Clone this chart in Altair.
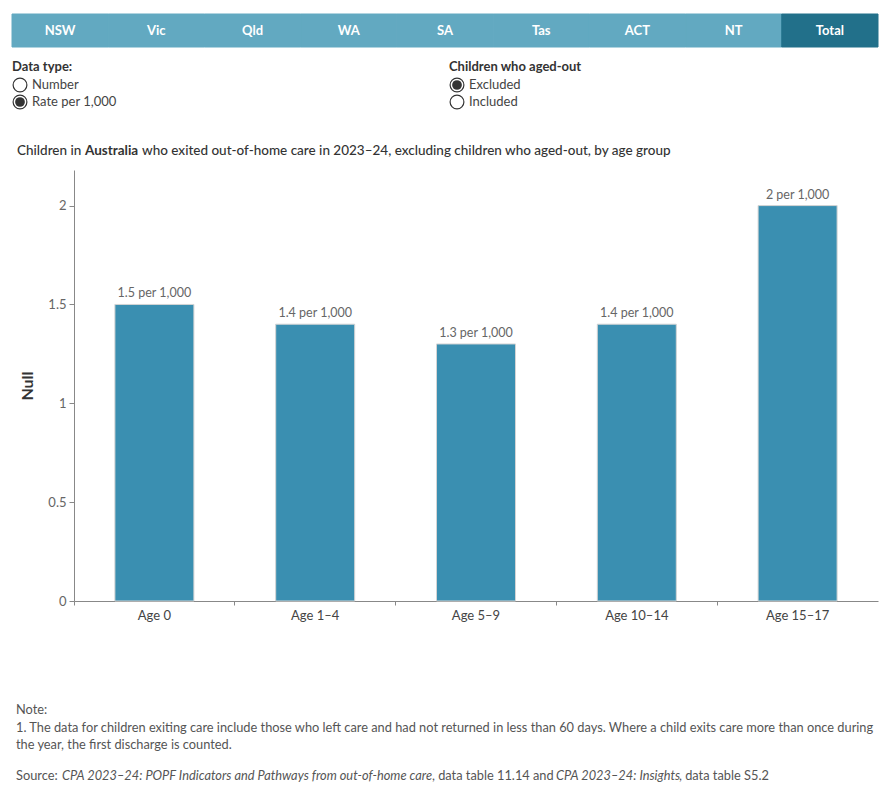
import altair as alt
import pandas as pd

# ---- data ----
ages = ["Age 0", "Age 1\u20134", "Age 5\u20139", "Age 10\u201314", "Age 15\u201317"]
rates = [1.5, 1.4, 1.3, 1.4, 2.0]
rate_labels = ["1.5 per 1,000", "1.4 per 1,000", "1.3 per 1,000", "1.4 per 1,000", "2 per 1,000"]
states = ["NSW", "Vic", "Qld", "WA", "SA", "Tas", "ACT", "NT", "Total"]
selected_state = "Total"
y_ticks = [0, 0.5, 1, 1.5, 2]

FONT = "Lato"
BAR = "#3a8fb1"
TAB = "#62a9c1"
TAB_SEL = "#22708a"

df = pd.DataFrame({"age": ages, "rate": rates, "label": rate_labels})
tabs = pd.DataFrame({"state": states, "sel": [s == selected_state for s in states]})

xband = alt.Scale(paddingInner=0, paddingOuter=0)
yscale = alt.Scale(domain=[0, 2.18], nice=False, zero=True)

bars = alt.Chart(df).mark_bar(size=79, color=BAR, stroke="#d4d4d4", strokeWidth=1).encode(
    x=alt.X("age:N", sort=ages, scale=xband, title=None,
            axis=alt.Axis(labelAngle=0, labelFont=FONT, labelFontSize=13, labelColor="#444",
                          labelPadding=4, domainColor="#888", tickColor="#888", tickSize=4,
                          bandPosition=0, grid=False)),
    y=alt.Y("rate:Q", scale=yscale, title="Null",
            axis=alt.Axis(values=y_ticks, format="~g", labelFont=FONT, labelFontSize=13, labelColor="#666",
                          titleFont=FONT, titleFontSize=16, titleFontWeight="bold", titleColor="#333",
                          titlePadding=12, domainColor="#888", tickColor="#888", tickSize=5,
                          labelPadding=3, grid=False)),
)

labels = alt.Chart(df).mark_text(font=FONT, fontSize=12.5, color="#666", baseline="bottom", dy=-4).encode(
    x=alt.X("age:N", sort=ages, scale=xband, axis=None),
    y=alt.Y("rate:Q", scale=yscale, title="Null"),
    text="label:N",
)

tab_scale = alt.Scale(range=[-62, 804], paddingInner=0, paddingOuter=0)
tab_color = alt.condition("datum.sel", alt.value(TAB_SEL), alt.value(TAB))
tab_rects = alt.Chart(tabs).mark_rect(strokeWidth=1).encode(
    x=alt.X("state:N", sort=states, scale=tab_scale, axis=None),
    y=alt.value(-156), y2=alt.value(-123),
    color=tab_color,
    stroke=tab_color,
)
tab_text = alt.Chart(tabs).mark_text(font=FONT, fontSize=13, fontWeight="bold", color="white",
                                     baseline="middle").encode(
    x=alt.X("state:N", sort=states, scale=tab_scale, axis=None),
    y=alt.value(-139),
    text="state:N",
)


def txt(s, x, y, size=12, color="#333", weight="normal", style="normal", align="left", baseline="middle"):
    return alt.Chart(pd.DataFrame({"t": [s]})).mark_text(
        font=FONT, fontSize=size, color=color, fontWeight=weight, fontStyle=style,
        align=align, baseline=baseline).encode(x=alt.value(x), y=alt.value(y), text="t:N")


def radio(x, y, on):
    d = pd.DataFrame({"t": [0]})
    outer = alt.Chart(d).mark_point(shape="circle", size=190, filled=True, fill="white",
                                    stroke="#333", strokeWidth=1.2, opacity=1).encode(
        x=alt.value(x), y=alt.value(y))
    if not on:
        return [outer]
    inner = alt.Chart(d).mark_point(shape="circle", size=95, filled=True, color="#333",
                                    opacity=1).encode(x=alt.value(x), y=alt.value(y))
    return [outer, inner]


controls = [
    txt("Data type:", -62, -103, size=13, weight="bold", color="#333"),
    *radio(-54, -85, False), txt("Number", -42, -85, size=13, color="#444"),
    *radio(-54, -68, True), txt("Rate per 1,000", -42, -68, size=13, color="#444"),
    txt("Children who aged-out", 375, -103, size=13, weight="bold", color="#333"),
    *radio(383, -85, True), txt("Excluded", 395, -85, size=13, color="#444"),
    *radio(383, -68, False), txt("Included", 395, -68, size=13, color="#444"),
]

title = [
    txt("Children in", -57, -19, size=13.5, weight=500, color="#333"),
    txt("Australia", 11, -19, size=13.5, weight="bold", color="#333"),
    txt("who exited out-of-home care in 2023\u201324, excluding children who aged-out, by age group",
        68, -19, size=13.5, weight=500, color="#333"),
]

NS = 12.8
notes = [
    txt("Note:", -58, 540, size=NS, color="#555"),
    txt("1. The data for children exiting care include those who left care and had not returned in less than 60 days. "
        "Where a child exits care more than once during", -58, 558, size=NS, color="#555"),
    txt("the year, the first discharge is counted.", -58, 575, size=NS, color="#555"),
    txt("Source:", -58, 606, size=NS, color="#555"),
    txt("CPA 2023\u201324: POPF Indicators and Pathways from out-of-home care", -12, 606, size=NS, color="#555",
        style="italic"),
    txt(", data table 11.14 and", 358, 606, size=NS, color="#555"),
    txt("CPA 2023\u201324: Insights", 482, 606, size=NS, color="#555", style="italic"),
    txt(", data table S5.2", 605, 606, size=NS, color="#555"),
]

chart = alt.layer(tab_rects, tab_text, *controls, *title, bars, labels, *notes).resolve_scale(
    x="independent"
).properties(
    width=804, height=431,
    autosize=alt.AutoSizeParams(type="none"),
    padding={"left": 74, "top": 170, "right": 12, "bottom": 199},
    background="white",
).configure_view(stroke=None)

chart.save("out.html", embed_options={"renderer": "svg", "actions": False})
